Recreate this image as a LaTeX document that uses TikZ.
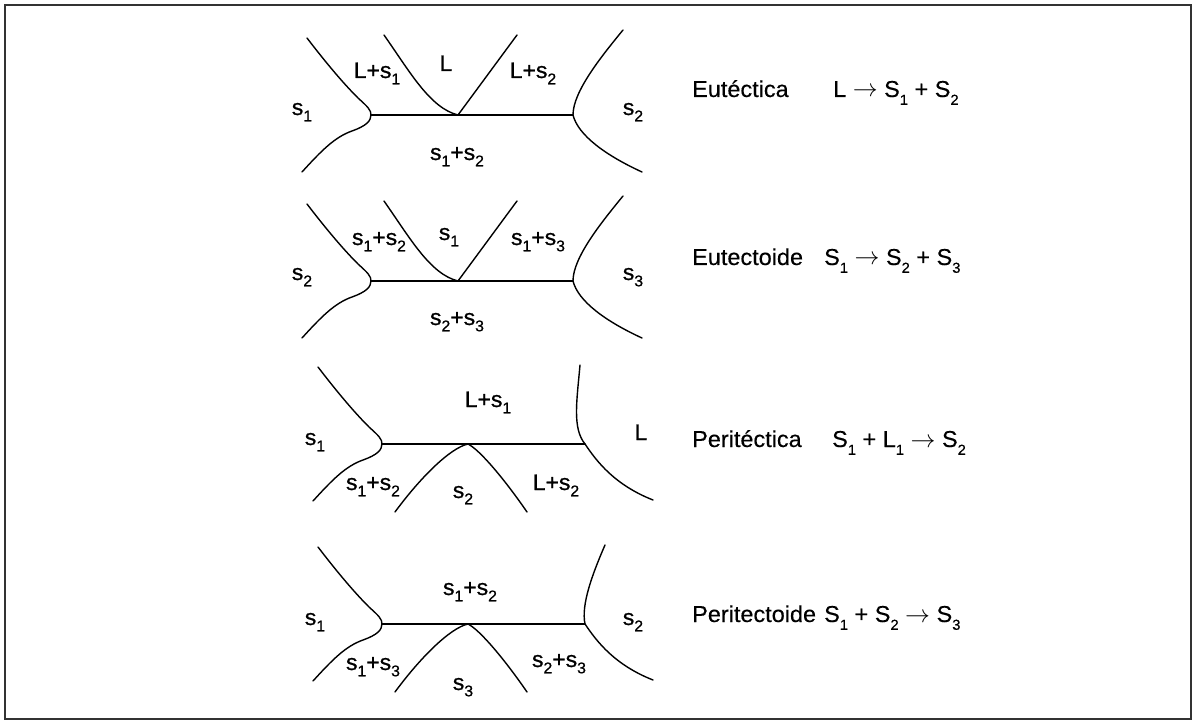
\documentclass[tikz,border=0pt]{standalone}
\usepackage{fontspec}
\setmainfont{Liberation Sans}[FakeStretch=1.02, FakeBold=0.3]
\newfontfamily\lblfont{Liberation Sans}[FakeStretch=1.02, FakeBold=0.8]
\newcommand\subn[1]{\raisebox{-0.28em}{\fontsize{15.5}{15.5}\selectfont #1}}
\newcommand\subr[1]{\raisebox{-0.34em}{\fontsize{14.5}{14.5}\selectfont #1}}
\newcommand\arr{ $\rightarrow$ }
\begin{document}
\begin{tikzpicture}[x=1pt,y=-1pt,
  curve/.style={line width=1.4pt, line cap=round},
  lbl/.style={inner sep=0pt, anchor=base, font=\lblfont\fontsize{22.5}{26}\selectfont},
  txt/.style={inner sep=0pt, anchor=base west, font=\fontsize{23}{27}\selectfont}]
\useasboundingbox (0,0) rectangle (1195,722);
\draw[line width=1.6pt, black!80] (5,5) rectangle (1191,719);

% ---------- panel 1 : eutectic ----------
\coordinate (p1l) at (371,115);
\coordinate (p1v) at (458,115);
\coordinate (p1r) at (573,115);
\draw[curve] (307,38) .. controls (330,68) and (346,86) .. (358,98)
  .. controls (368,107) and (371,110) .. (p1l)
  .. controls (371,121) and (366,126) .. (352,131)
  .. controls (335,137) and (322,150) .. (302,172);
\draw[curve] (p1l) -- (p1r);
\draw[curve] (384,35) .. controls (410,72) and (430,108) .. (p1v)
  .. controls (475,92) and (500,58) .. (517,35);
\draw[curve] (623,30) .. controls (600,58) and (573,92) .. (p1r)
  .. controls (578,135) and (605,155) .. (642,172);
\node[lbl] (a1) at (302,115) {s\subn{1}};
\node[lbl] (a2) at (377,78) {L+s\subn{1}};
\node[lbl] (a3) at (446,71) {L};
\node[lbl] (a4) at (533,78) {L+s\subn{2}};
\node[lbl] (a5) at (633,115) {s\subn{2}};
\node[lbl] (a6) at (457,160) {s\subn{1}+s\subn{2}};
\node[txt] (t1) at (692,97) {Eutéctica};
\node[txt] (e1) at (833,97) {L\arr S\subr{1} + S\subr{2}};

% ---------- panel 2 : eutectoid ----------
\begin{scope}[shift={(0,166)}]
\coordinate (p2l) at (371,115);
\coordinate (p2v) at (458,115);
\coordinate (p2r) at (573,115);
\draw[curve] (307,38) .. controls (330,68) and (346,86) .. (358,98)
  .. controls (368,107) and (371,110) .. (p2l)
  .. controls (371,121) and (366,126) .. (352,131)
  .. controls (335,137) and (322,150) .. (302,172);
\draw[curve] (p2l) -- (p2r);
\draw[curve] (384,35) .. controls (410,72) and (430,108) .. (p2v)
  .. controls (475,92) and (500,58) .. (517,35);
\draw[curve] (623,30) .. controls (600,58) and (573,92) .. (p2r)
  .. controls (578,135) and (605,155) .. (642,172);
\end{scope}
\node[lbl] (b1) at (302,280) {s\subn{2}};
\node[lbl] (b2) at (379,245) {s\subn{1}+s\subn{2}};
\node[lbl] (b3) at (449,240) {s\subn{1}};
\node[lbl] (b4) at (538,245) {s\subn{1}+s\subn{3}};
\node[lbl] (b5) at (633,280) {s\subn{3}};
\node[lbl] (b6) at (457,325) {s\subn{2}+s\subn{3}};
\node[txt] (t2) at (692,265) {Eutectoide};
\node[txt] (e2) at (824,265) {S\subr{1}\arr S\subr{2} + S\subr{3}};

% ---------- panel 3 : peritectic ----------
\coordinate (p3l) at (382,444);
\coordinate (p3v) at (468,444);
\coordinate (p3r) at (585,444);
\draw[curve] (318,367) .. controls (341,397) and (357,415) .. (369,427)
  .. controls (379,436) and (382,439) .. (p3l)
  .. controls (382,450) and (377,455) .. (363,460)
  .. controls (346,466) and (333,479) .. (313,501);
\draw[curve] (p3l) -- (p3r);
\draw[curve] (395,512) .. controls (420,478) and (450,448) .. (p3v)
  .. controls (480,450) and (505,480) .. (527,512);
\draw[curve] (580,365) .. controls (577,400) and (572,428) .. (p3r)
  .. controls (597,462) and (615,485) .. (653,500);
\node[lbl] (c1) at (315,445) {s\subn{1}};
\node[lbl] (c2) at (488,407) {L+s\subn{1}};
\node[lbl] (c3) at (641,440) {L};
\node[lbl] (c4) at (373,490) {s\subn{1}+s\subn{2}};
\node[lbl] (c5) at (463,498) {s\subn{2}};
\node[lbl] (c6) at (556,490) {L+s\subn{2}};
\node[txt] (t3) at (692,447) {Peritéctica};
\node[txt] (e3) at (832,447) {S\subr{1} + L\subr{1}\arr S\subr{2}};

% ---------- panel 4 : peritectoid ----------
\coordinate (p4l) at (382,624);
\coordinate (p4v) at (468,624);
\coordinate (p4r) at (585,624);
\draw[curve] (318,547) .. controls (341,577) and (357,595) .. (369,607)
  .. controls (379,616) and (382,619) .. (p4l)
  .. controls (382,630) and (377,635) .. (363,640)
  .. controls (346,646) and (333,659) .. (313,681);
\draw[curve] (p4l) -- (p4r);
\draw[curve] (395,692) .. controls (420,658) and (450,628) .. (p4v)
  .. controls (480,630) and (505,660) .. (527,692);
\draw[curve] (605,545) .. controls (592,575) and (581,605) .. (p4r)
  .. controls (597,642) and (615,665) .. (653,680);
\node[lbl] (d1) at (315,625) {s\subn{1}};
\node[lbl] (d2) at (470,595) {s\subn{1}+s\subn{2}};
\node[lbl] (d3) at (633,625) {s\subn{2}};
\node[lbl] (d4) at (373,670) {s\subn{1}+s\subn{3}};
\node[lbl] (d5) at (463,690) {s\subn{3}};
\node[lbl] (d6) at (559,667) {s\subn{2}+s\subn{3}};
\node[txt] (t4) at (692,622) {Peritectoide};
\node[txt] (e4) at (824,622) {S\subr{1} + S\subr{2}\arr S\subr{3}};
\end{tikzpicture}
\end{document}
